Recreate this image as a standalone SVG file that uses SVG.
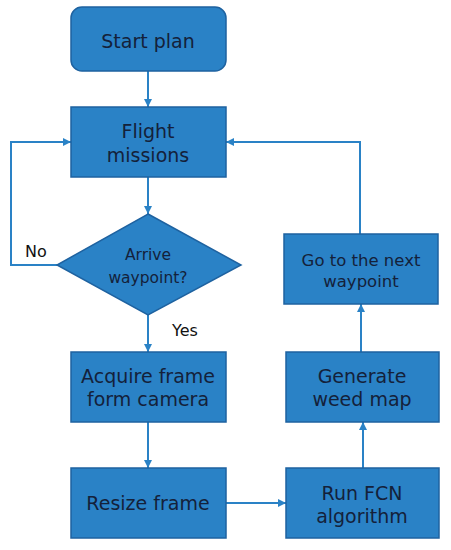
<svg xmlns="http://www.w3.org/2000/svg" width="451" height="550" viewBox="0 0 451 550">
<defs>
<style>
.box{fill:#2a82c6;stroke:#1e62a0;stroke-width:1.5}
.t{font-family:"DejaVu Sans",Verdana,sans-serif;fill:#14213a;text-anchor:middle}
.l{fill:none;stroke:#2a82c6;stroke-width:2}
.lab{font-family:"DejaVu Sans",Verdana,sans-serif;fill:#111;font-size:16px}
</style>
<marker id="ah" viewBox="0 0 10 10" refX="10" refY="5" markerWidth="4" markerHeight="4" orient="auto">
<path d="M0,0 L10,5 L0,10 z" fill="#2a82c6"/>
</marker>
</defs>
<rect width="451" height="550" fill="#fff"/>
<g id="connectors">
<path class="l" d="M148,71 V107" marker-end="url(#ah)"/>
<path class="l" d="M148,177 V214" marker-end="url(#ah)"/>
<path class="l" d="M57,265 H11 V142 H71" marker-end="url(#ah)"/>
<path class="l" d="M148,315 V352" marker-end="url(#ah)"/>
<path class="l" d="M148,422 V468" marker-end="url(#ah)"/>
<path class="l" d="M226,503 H286" marker-end="url(#ah)"/>
<path class="l" d="M363,468 V422" marker-end="url(#ah)"/>
<path class="l" d="M361,352 V304" marker-end="url(#ah)"/>
<path class="l" d="M360,234 V142 H226" marker-end="url(#ah)"/>
<text class="lab" x="25" y="257">No</text>
<text class="lab" x="172" y="336">Yes</text>
</g>
<g id="start">
<rect class="box" x="71" y="7" width="155" height="64" rx="11"/>
<text class="t" x="148" y="48" font-size="19">Start plan</text>
</g>
<g id="flight">
<rect class="box" x="71" y="107" width="155" height="70"/>
<text class="t" x="148" y="138" font-size="19">Flight</text>
<text class="t" x="148" y="162" font-size="19">missions</text>
</g>
<g id="arrive">
<polygon class="box" points="148,214 241,265 148,315 57,265"/>
<text class="t" x="148" y="260" font-size="15.5">Arrive</text>
<text class="t" x="148" y="283" font-size="15.5">waypoint?</text>
</g>
<g id="acquire">
<rect class="box" x="71" y="352" width="155" height="70"/>
<text class="t" x="148" y="383" font-size="19">Acquire frame</text>
<text class="t" x="148" y="406" font-size="19">form camera</text>
</g>
<g id="resize">
<rect class="box" x="71" y="468" width="155" height="70"/>
<text class="t" x="148" y="510" font-size="19">Resize frame</text>
</g>
<g id="runfcn">
<rect class="box" x="286" y="468" width="153" height="70"/>
<text class="t" x="362" y="500" font-size="19">Run FCN</text>
<text class="t" x="362" y="523" font-size="19">algorithm</text>
</g>
<g id="generate">
<rect class="box" x="286" y="352" width="153" height="70"/>
<text class="t" x="362" y="383" font-size="19">Generate</text>
<text class="t" x="362" y="406" font-size="19">weed map</text>
</g>
<g id="goto">
<rect class="box" x="284" y="234" width="154" height="70"/>
<text class="t" x="361" y="266" font-size="16.5">Go to the next</text>
<text class="t" x="361" y="287" font-size="16.5">waypoint</text>
</g>
</svg>
